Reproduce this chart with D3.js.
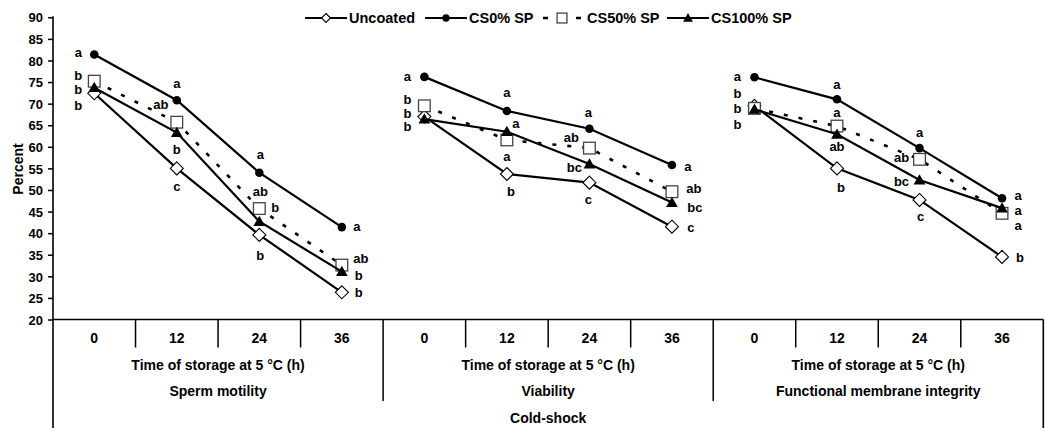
<!DOCTYPE html>
<html><head><meta charset="utf-8">
<script src="https://cdn.jsdelivr.net/npm/d3@7"></script>
<style>
body{margin:0;background:#fff}
text{font-family:"Liberation Sans",Arial,sans-serif;font-weight:bold;fill:#000}
</style>
</head><body>
<svg id="chart" width="1046" height="428"></svg>
<script>
// ---- data ----
const panels = ["Sperm motility", "Viability", "Functional membrane integrity"];
const times = ["0", "12", "24", "36"];
const seriesNames = ["Uncoated", "CS0% SP", "CS50% SP", "CS100% SP"];
const yTicks = [20, 25, 30, 35, 40, 45, 50, 55, 60, 65, 70, 75, 80, 85, 90];
const xTitle = "Time of storage at 5 °C (h)";
const groupTitle = "Cold-shock";
const yTitle = "Percent";

// values per series (Uncoated, CS0%, CS50%, CS100%) at 0,12,24,36 h
const motility = [
  [72.4, 55.0, 39.6, 26.3],
  [81.4, 70.8, 54.0, 41.4],
  [75.2, 65.7, 45.7, 32.6],
  [73.7, 63.3, 42.7, 31.1]
];
const viability = [
  [67.0, 53.7, 51.7, 41.5],
  [76.2, 68.3, 64.2, 55.8],
  [69.5, 61.6, 59.7, 49.6],
  [66.4, 63.5, 56.0, 47.1]
];
const membrane = [
  [69.5, 55.0, 47.7, 34.5],
  [76.1, 71.0, 59.7, 48.1],
  [68.9, 64.8, 57.1, 44.6],
  [68.7, 62.9, 52.3, 45.8]
];
// significance letters
const motilityLetters = [["b","c","b","b"],["a","a","a","a"],["b","ab","ab","ab"],["b","b","b","b"]];
const viabilityLetters = [["b","b","c","c"],["a","a","a","a"],["b","a","ab","ab"],["b","a","bc","bc"]];
const membraneLetters = [["b","b","c","b"],["a","a","a","a"],["b","a","ab","a"],["b","ab","bc","a"]];

// ---- layout (label placement relative to each point, px) ----
const labelOffsets = [
  [ [[-16,13],[0,19],[1,21],[17,1]],
    [[-16,-1],[0,-16],[1,-18],[15,0]],
    [[-16,-5],[-16,-17],[1,-16],[19,-6]],
    [[-16,2],[0,18],[16,-13],[17,5]] ],
  [ [[-17,11],[4,18],[-1,17],[19,1]],
    [[-17,0],[0,-18],[-1,-16],[16,2]],
    [[-17,-6],[0,17],[-18,-10],[22,-3]],
    [[-17,-5],[9,-8],[-15,4],[23,6]] ],
  [ [[-17,19.5],[4,20],[1,17],[18,1]],
    [[-17,0],[0,-14],[0,-15],[16,-2.5]],
    [[-17,-14],[0,-13],[-18,-1],[16,13]],
    [[-17,0],[0,13],[-18,2],[16,2.5]] ]
];

const panelValues = [motility, viability, membrane];
const panelLetters = [motilityLetters, viabilityLetters, membraneLetters];

const svg = d3.select("#chart");
const mLeft = 53, mRight = 1043.3, mTop = 17.3, mBase = 319.5;

const y = d3.scaleLinear().domain([20, 90]).range([mBase, mTop]);
const xPanel = d3.scaleBand().domain(panels).range([mLeft, mRight]).padding(0);
const xTime = d3.scaleBand().domain(times).range([0, xPanel.bandwidth()]).padding(0);
const px = (p, t) => xPanel(panels[p]) + xTime(times[t]) + xTime.bandwidth() / 2;

// ---- axes ----
const ax = svg.append("g");
const yAxis = d3.axisLeft(y).tickValues(yTicks).tickSize(5).tickPadding(5);
const yg = ax.append("g").attr("transform", `translate(${mLeft},0)`).call(yAxis);
yg.select(".domain").remove();
yg.selectAll(".tick line").attr("stroke", "#000").attr("stroke-width", 1.5);
yg.selectAll(".tick text").attr("font-size", 13).attr("font-family", "Liberation Sans, Arial, sans-serif").attr("font-weight", "bold").attr("fill", "#000").attr("dy", "0.36em");
ax.append("line").attr("x1", mLeft).attr("x2", mLeft).attr("y1", mTop - 1).attr("y2", 428)
  .attr("stroke", "#000").attr("stroke-width", 1.6);
ax.append("line").attr("x1", mLeft).attr("x2", mRight).attr("y1", mBase).attr("y2", mBase)
  .attr("stroke", "#000").attr("stroke-width", 1.6);
ax.append("line").attr("x1", mRight).attr("x2", mRight).attr("y1", mBase).attr("y2", 428)
  .attr("stroke", "#000").attr("stroke-width", 1.6);

panels.forEach((p, pi) => {
  const x0 = xPanel(p);
  times.forEach((t, ti) => {
    const xl = x0 + xTime(t);
    if (ti > 0) {
      ax.append("line").attr("x1", xl).attr("x2", xl).attr("y1", mBase).attr("y2", mBase + 28)
        .attr("stroke", "#000").attr("stroke-width", 1.5);
    }
    ax.append("text").attr("x", px(pi, ti)).attr("y", mBase + 23)
      .attr("text-anchor", "middle").attr("font-size", 14).text(t);
  });
  if (pi > 0) {
    ax.append("line").attr("x1", x0).attr("x2", x0).attr("y1", mBase).attr("y2", 401)
      .attr("stroke", "#000").attr("stroke-width", 1.5);
  }
  ax.append("text").attr("x", x0 + xPanel.bandwidth() / 2).attr("y", 369.5)
    .attr("text-anchor", "middle").attr("font-size", 14).text(xTitle);
  ax.append("text").attr("x", x0 + xPanel.bandwidth() / 2).attr("y", 395.5)
    .attr("text-anchor", "middle").attr("font-size", 14).text(p);
});
ax.append("text").attr("x", (mLeft + mRight) / 2).attr("y", 423)
  .attr("text-anchor", "middle").attr("font-size", 14).text(groupTitle);
ax.append("text").attr("transform", "translate(23,169) rotate(-90)")
  .attr("text-anchor", "middle").attr("font-size", 14).text(yTitle);

// ---- markers ----
function marker(g, kind, cx, cy, s) {
  if (kind === 0) {
    g.append("path").attr("d", `M${cx},${cy - s}L${cx + s},${cy}L${cx},${cy + s}L${cx - s},${cy}Z`)
      .attr("fill", "#fff").attr("stroke", "#000").attr("stroke-width", 1.1);
  } else if (kind === 1) {
    g.append("circle").attr("cx", cx).attr("cy", cy).attr("r", s * 0.66).attr("fill", "#000");
  } else if (kind === 2) {
    const h = s * 0.9;
    g.append("rect").attr("x", cx - h).attr("y", cy - h).attr("width", 2 * h).attr("height", 2 * h)
      .attr("fill", "#fff").attr("stroke", "#444").attr("stroke-width", 1.3);
  } else {
    const h = s * 0.9;
    g.append("path").attr("d", `M${cx},${cy - h}L${cx + h},${cy + h * 0.75}L${cx - h},${cy + h * 0.75}Z`)
      .attr("fill", "#000");
  }
}

// ---- series ----
const plot = svg.append("g");
panelValues.forEach((vals, pi) => {
  vals.forEach((arr, si) => {
    const line = d3.line().x((d, i) => px(pi, i)).y(d => y(d));
    const path = plot.append("path").datum(arr).attr("d", line)
      .attr("fill", "none").attr("stroke", "#000").attr("stroke-width", si === 2 ? 2.6 : 2.2);
    if (si === 2) path.attr("stroke-dasharray", "4,11");
    arr.forEach((v, i) => marker(plot, si, px(pi, i), y(v), 6.5));
  });
});
panelLetters.forEach((lets, pi) => {
  lets.forEach((arr, si) => {
    arr.forEach((l, i) => {
      const off = labelOffsets[pi][si][i];
      plot.append("text").attr("x", px(pi, i) + off[0]).attr("y", y(panelValues[pi][si][i]) + off[1])
        .attr("dy", "0.3em").attr("text-anchor", "middle").attr("font-size", 13).text(l);
    });
  });
});

// ---- legend ----
const legendX = [305, 425, 543, 667];
const lg = svg.append("g");
seriesNames.forEach((n, si) => {
  const x0 = legendX[si];
  const len = si === 2 ? 38 : 42;
  const l = lg.append("line").attr("x1", x0).attr("x2", x0 + len).attr("y1", 18).attr("y2", 18)
    .attr("stroke", "#000").attr("stroke-width", si === 2 ? 2.6 : 2.2);
  if (si === 2) l.attr("stroke-dasharray", "5,28");
  marker(lg, si, x0 + len / 2, 18, si === 0 ? 4.5 : 5.5);
  lg.append("text").attr("x", x0 + len + (si === 2 ? 6 : 2)).attr("y", 23).attr("font-size", 14.5).text(n);
});
</script>
</body></html>
